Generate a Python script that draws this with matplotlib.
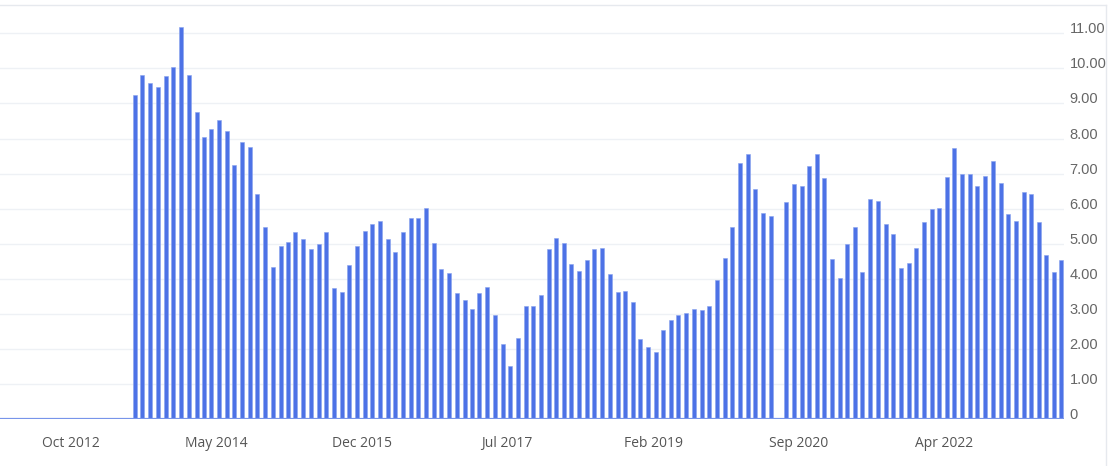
import numpy as np
import pandas as pd
import matplotlib
matplotlib.use("Agg")
import matplotlib.pyplot as plt
import matplotlib.dates as mdates
from matplotlib.lines import Line2D

# monthly values, June 2013 .. July 2023 (None = no data for that month)
start_month = "2013-06-01"
values = [
    9.25, 9.81, 9.58, 9.46, 9.79, 10.03, 11.17,                          # 2013 Jun-Dec
    9.81, 8.75, 8.04, 8.26, 8.54, 8.22, 7.26, 7.90, 7.76, 6.41, 5.49, 4.34,  # 2014
    4.95, 5.05, 5.34, 5.13, 4.85, 4.99, 5.34, 3.75, 3.63, 4.39, 4.95, 5.38,  # 2015
    5.57, 5.66, 5.13, 4.77, 5.34, 5.74, 5.74, 6.02, 5.03, 4.28, 4.17, 3.60,  # 2016
    3.39, 3.15, 3.60, 3.77, 2.97, 2.15, 1.51, 2.32, 3.24, 3.24, 3.54, 4.85,  # 2017
    5.17, 5.03, 4.42, 4.24, 4.53, 4.85, 4.88, 4.14, 3.63, 3.67, 3.35, 2.29,  # 2018
    2.07, 1.93, 2.54, 2.83, 2.97, 3.04, 3.15, 3.11, 3.24, 3.96, 4.60, 5.49,  # 2019
    7.30, 7.55, 6.56, 5.88, 5.80, None, 6.19, 6.70, 6.66, 7.23, 7.55, 6.88,  # 2020
    4.56, 4.03, 4.99, 5.49, 4.20, 6.28, 6.23, 5.57, 5.28, 4.31, 4.46, 4.88,  # 2021
    5.62, 5.99, 6.02, 6.90, 7.73, 6.98, 6.98, 6.66, 6.94, 7.37, 6.73, 5.84,  # 2022
    5.66, 6.48, 6.41, 5.62, 4.68, 4.20, 4.53,                            # 2023 Jan-Jul
]
tick_dates = ["2012-10-01", "2014-05-01", "2015-12-01", "2017-07-01",
              "2019-02-01", "2020-09-01", "2022-04-01"]
y_ticks = list(range(0, 12))
y_labels = ["0"] + ["%.2f" % v for v in y_ticks[1:]]

months = pd.date_range(start_month, periods=len(values), freq="MS") + pd.Timedelta(days=12)
vals = np.array([np.nan if v is None else v for v in values], dtype=float)

W, H = 1116, 466
fig = plt.figure(figsize=(W / 100, H / 100), dpi=100)
ax = fig.add_axes([0, (H - 419.3) / H, 1064 / W, (419.3 - 20) / H])

bar_color = "#4d72e6"
ax.bar(months, vals, width=16, color=bar_color, edgecolor="#8aa3ee",
       linewidth=0.4, zorder=2)
ax.axhline(0, color="#7895ea", lw=1.6, zorder=3)

ax.set_ylim(0, 399.3 / 35.09)
ax.set_xlim(pd.Timestamp("2011-12-25"), pd.Timestamp("2023-07-23"))

ax.yaxis.tick_right()
ax.set_yticks(y_ticks)
ax.set_yticklabels(y_labels)
ax.grid(axis="y", color="#eef1f5", lw=1, zorder=0)
ax.set_axisbelow(True)

ax.set_xticks(pd.to_datetime(tick_dates))
ax.xaxis.set_major_formatter(mdates.DateFormatter("%b %Y"))

ax.tick_params(axis="y", length=0, pad=4, labelsize=10.5, labelcolor="#666666")
ax.tick_params(axis="x", length=0, pad=12, labelsize=10, labelcolor="#555555")
for lab in ax.get_yticklabels():
    lab.set_fontfamily("Liberation Sans")
    lab.set_verticalalignment("baseline")
for lab in ax.get_xticklabels():
    lab.set_fontfamily("Open Sans")

for s in ax.spines.values():
    s.set_visible(False)

# light container border (top and right)
fig.add_artist(Line2D([0, 1106 / W], [1 - 5 / H, 1 - 5 / H], color="#e6e9ee",
                      lw=1, transform=fig.transFigure))
fig.add_artist(Line2D([1106 / W, 1106 / W], [0, 1 - 5 / H], color="#e6e9ee",
                      lw=1, transform=fig.transFigure))

fig.savefig("out.png", dpi=100)
